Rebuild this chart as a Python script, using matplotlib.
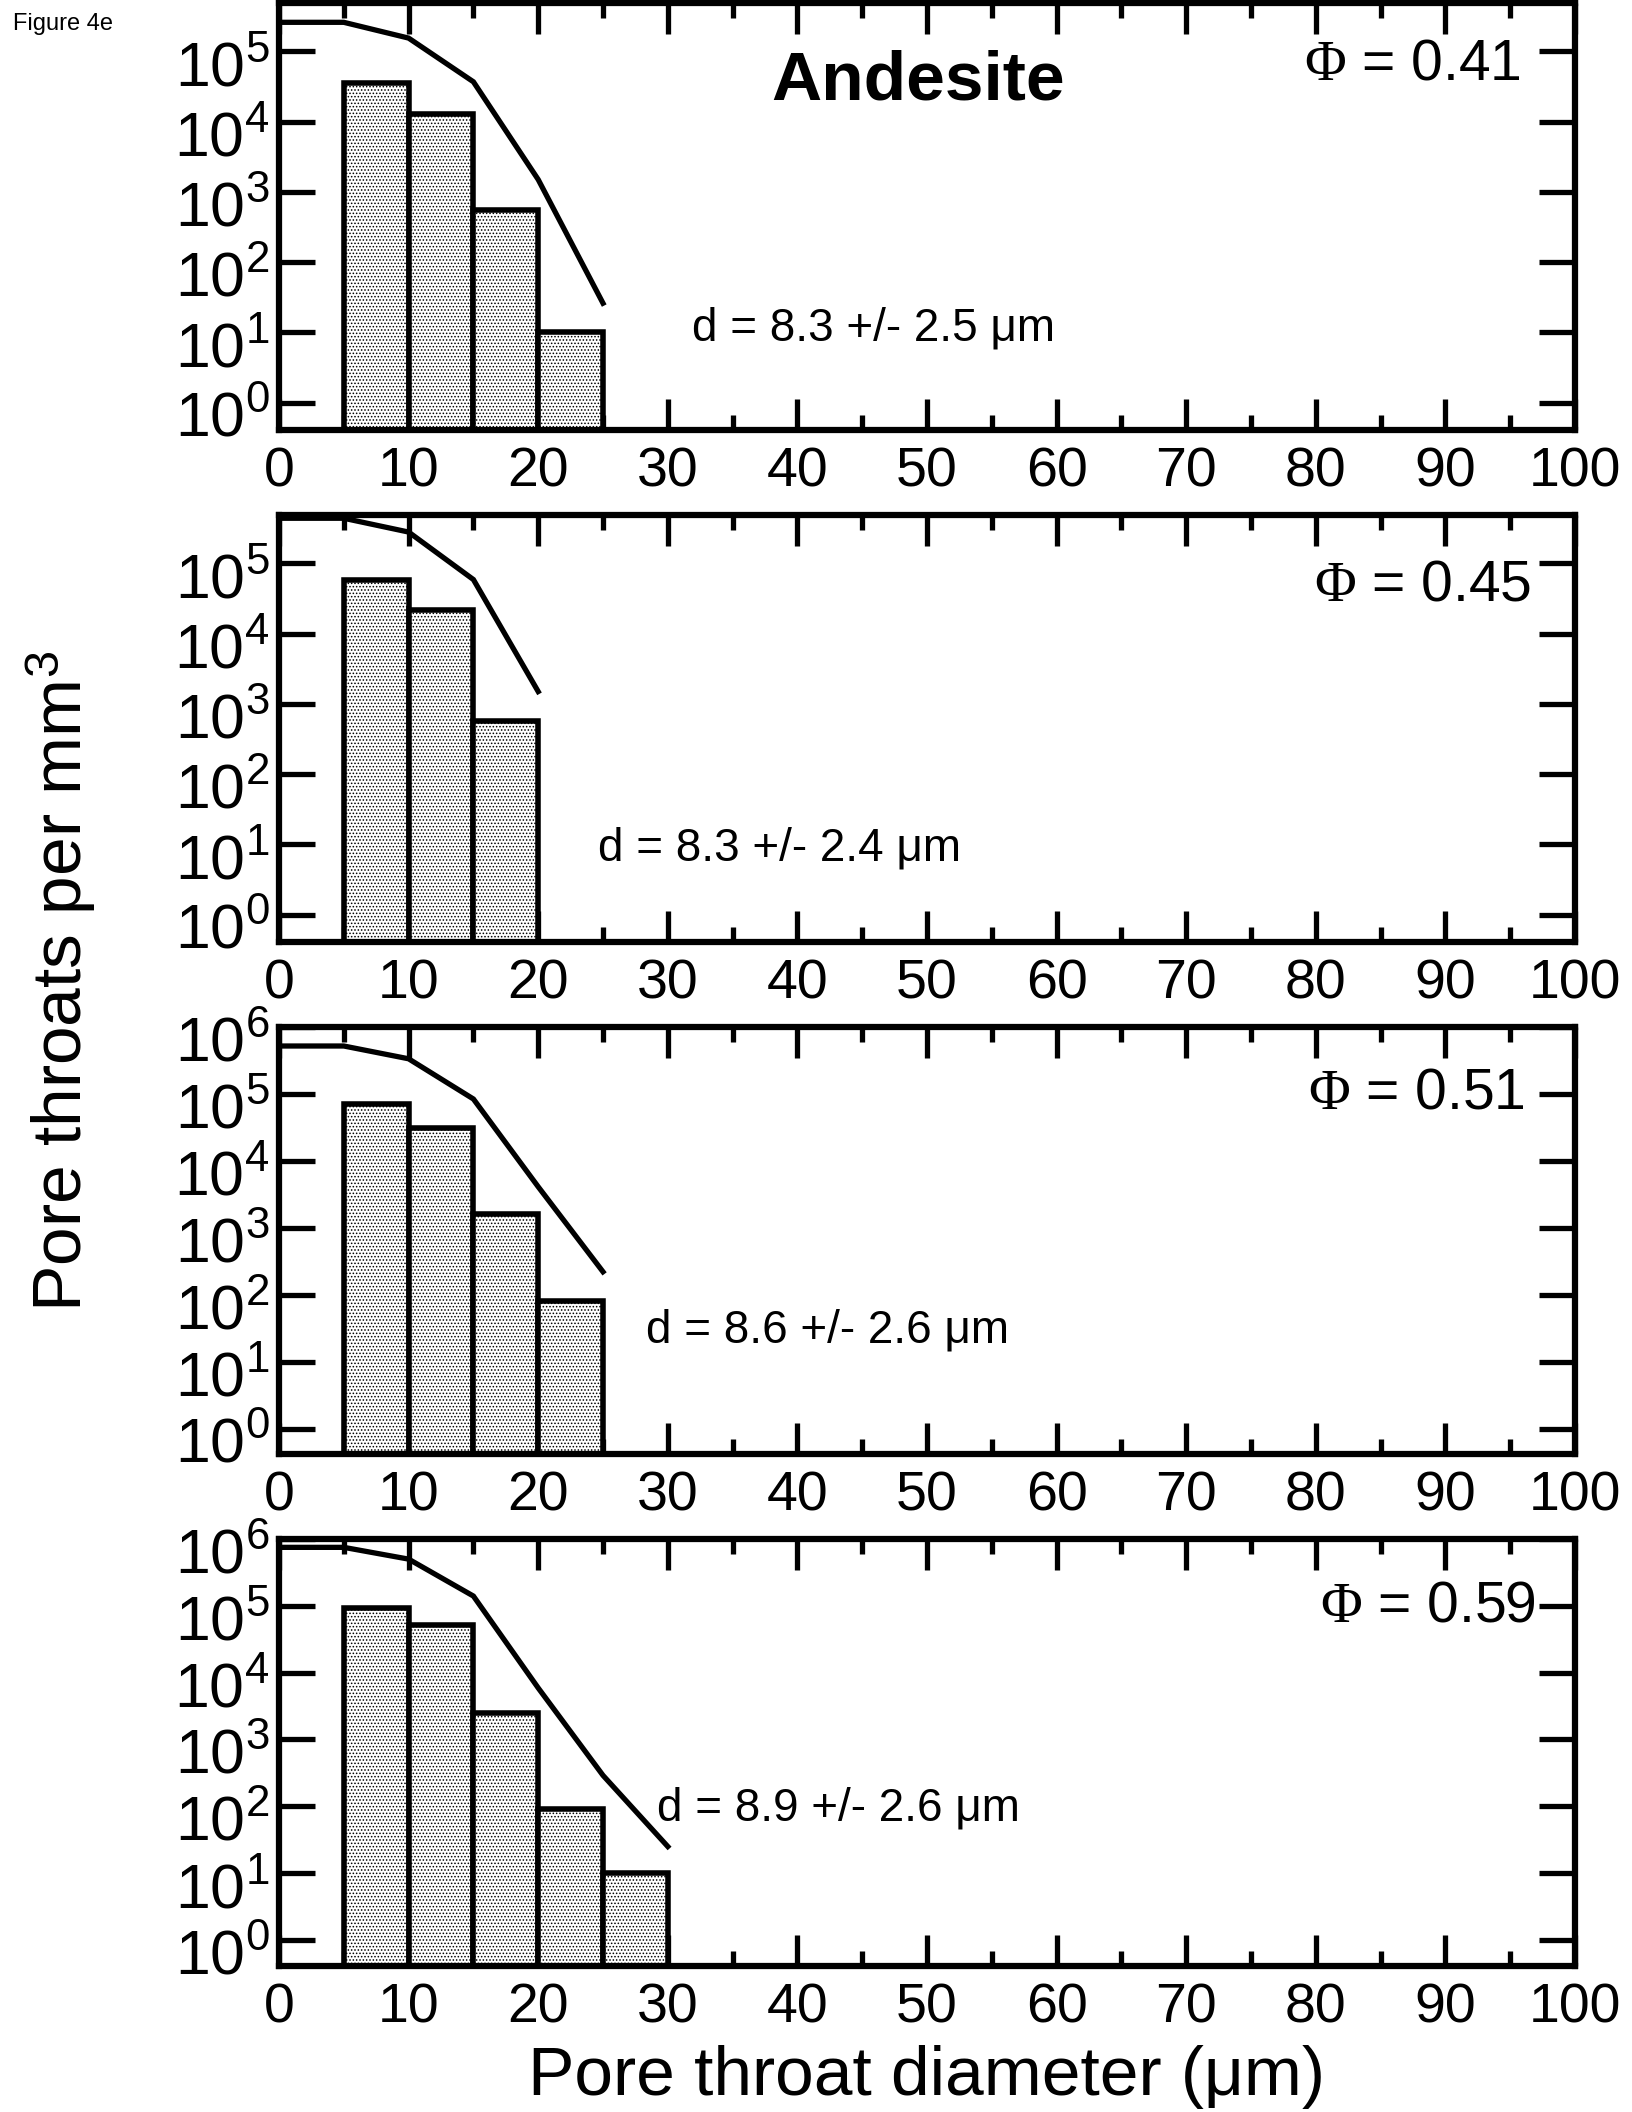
import matplotlib
matplotlib.use("Agg")
import matplotlib.pyplot as plt
import matplotlib.transforms as mtransforms
from matplotlib.ticker import MultipleLocator, NullLocator, FixedLocator

plt.rcParams['font.family'] = ['Liberation Sans', 'DejaVu Sans']
plt.rcParams['mathtext.fontset'] = 'custom'
plt.rcParams['mathtext.rm'] = 'Liberation Serif'
plt.rcParams['mathtext.it'] = 'Liberation Serif:italic'
plt.rcParams['hatch.linewidth'] = 0.7

# Histogram bins (left edges, um) and bin width
bin_left = [5, 10, 15, 20, 25]
bin_width = 5

# Curve abscissae (um)
curve_x = [0, 5, 10, 15, 20, 25, 30]

# Porosity values of the four samples
porosity = ["0.41", "0.45", "0.51", "0.59"]

# Pore throat counts per mm^3 in each bin
counts_041 = [3.5e4, 1.3e4, 5.6e2, 1.0e1]
counts_045 = [5.8e4, 2.2e4, 5.8e2]
counts_051 = [7.1e4, 3.1e4, 1.6e3, 8.0e1]
counts_059 = [9.3e4, 5.1e4, 2.5e3, 9.0e1, 1.0e1]

# Curve values per mm^3
curve_041 = [2.6e5, 2.6e5, 1.55e5, 3.7e4, 1.5e3, 2.6e1]
curve_045 = [4.4e5, 4.4e5, 2.8e5, 5.9e4, 1.5e3]
curve_051 = [5.2e5, 5.2e5, 3.35e5, 8.4e4, 4.1e3, 2.2e2]
curve_059 = [7.5e5, 7.5e5, 5.0e5, 1.4e5, 5.9e3, 2.9e2, 2.5e1]

# Mean diameter annotations
diam_text = ["d = 8.3 +/- 2.5 \u03bcm", "d = 8.3 +/- 2.4 \u03bcm",
             "d = 8.6 +/- 2.6 \u03bcm", "d = 8.9 +/- 2.6 \u03bcm"]

# y-axis limits (log10 of lower / upper bound)
ylims = [(-0.39, 5.69), (-0.39, 5.69), (-0.38, 6.0), (-0.39, 6.0)]
ytop_decade = [5, 5, 6, 6]

counts_all = [counts_041, counts_045, counts_051, counts_059]
curves_all = [curve_041, curve_045, curve_051, curve_059]

# text placement (axes fraction)
phi_pos = [(0.958, 0.857), (0.966, 0.834), (0.961, 0.845), (0.970, 0.843)]
d_pos = [(0.319, 0.237), (0.246, 0.218), (0.283, 0.290), (0.292, 0.370)]

W, H = 1632, 2112
fig = plt.figure(figsize=(W / 100, H / 100), dpi=100)

left_px, width_px, height_px = 279, 1296, 427
tops_px = [3, 515, 1027, 1539]

# downward shift of the decade labels
label_shift = mtransforms.ScaledTranslation(0, -8 / 72, fig.dpi_scale_trans)

for i in range(4):
    top = tops_px[i]
    ax = fig.add_axes([left_px / W, (H - top - height_px) / H,
                       width_px / W, height_px / H])
    ax.set_axisbelow(True)
    cnt = counts_all[i]
    ax.bar(bin_left[:len(cnt)], cnt, width=bin_width, align='edge', log=True,
           facecolor='white', edgecolor='black', linewidth=4.0, hatch='.....')
    cv = curves_all[i]
    ax.plot(curve_x[:len(cv)], cv, color='black', lw=3.8, solid_joinstyle='miter')

    ax.set_xlim(0, 100)
    ax.set_ylim(10 ** ylims[i][0], 10 ** ylims[i][1])
    ax.xaxis.set_major_locator(MultipleLocator(10))
    ax.xaxis.set_minor_locator(MultipleLocator(5))
    ax.yaxis.set_major_locator(FixedLocator([10.0 ** k for k in range(ytop_decade[i] + 1)]))
    ax.yaxis.set_minor_locator(NullLocator())

    ax.tick_params(axis='x', which='both', direction='in', top=True, bottom=True,
                   width=3.8, color='black')
    ax.tick_params(axis='x', which='major', length=22, labelsize=40, pad=12)
    ax.tick_params(axis='x', which='minor', length=11)
    ax.tick_params(axis='y', which='major', direction='in', left=True, right=True,
                   length=26, width=3.8, labelsize=45, pad=7)
    for sp in ax.spines.values():
        sp.set_linewidth(4.5)

    fig.canvas.draw()
    for tick in ax.yaxis.get_major_ticks():
        tick.label1.set_transform(tick.label1.get_transform() + label_shift)

    ax.text(phi_pos[i][0], phi_pos[i][1], r'$\mathrm{\Phi}$ = ' + porosity[i],
            transform=ax.transAxes, ha='right', va='center', fontsize=41)
    ax.text(d_pos[i][0], d_pos[i][1], diam_text[i], transform=ax.transAxes,
            ha='left', va='center', fontsize=33)
    if i == 0:
        ax.text(0.493, 0.815, 'Andesite', transform=ax.transAxes, ha='center',
                va='center', fontsize=50, fontweight='bold')

fig.text(61 / W, 1 - 982 / H, r'Pore throats per mm$^{\mathdefault{3}}$',
         rotation=90, ha='center', va='center', fontsize=50)
fig.text(927 / W, 3 / H, 'Pore throat diameter (\u03bcm)',
         ha='center', va='bottom', fontsize=50)
fig.text(13 / W, 1 - 24 / H, 'Figure 4e', ha='left', va='center', fontsize=17)

fig.savefig('out.png', dpi=100, facecolor='white')
